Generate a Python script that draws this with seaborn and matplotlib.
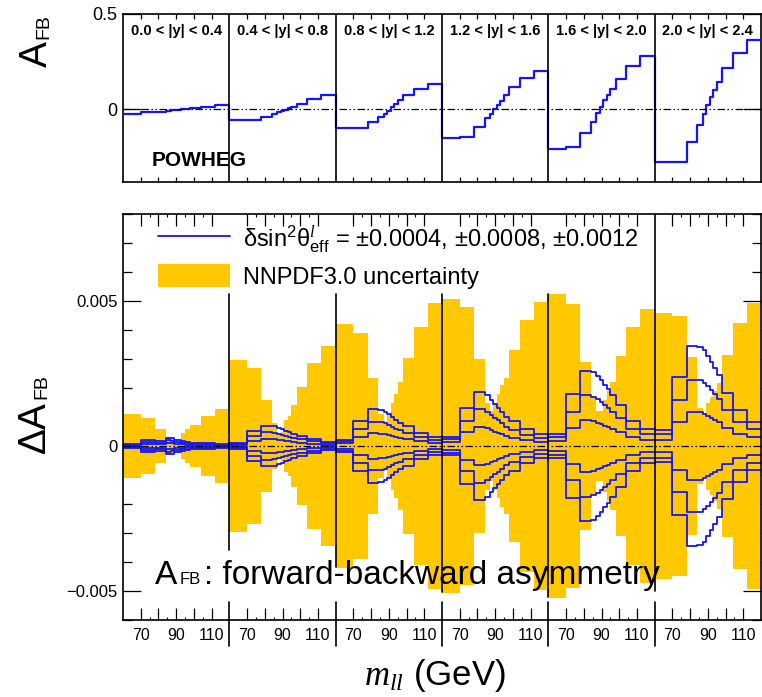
import numpy as np
import pandas as pd
import matplotlib
matplotlib.use("Agg")
import matplotlib.pyplot as plt
from matplotlib.lines import Line2D
from matplotlib.patches import Patch
import seaborn as sns

# ---------------- data ----------------
mass_edges = [60, 70, 78, 84, 87, 89, 91, 93, 95, 98, 104, 112, 120]
rapidity_bins = ["0.0 < |y| < 0.4", "0.4 < |y| < 0.8", "0.8 < |y| < 1.2",
                 "1.2 < |y| < 1.6", "1.6 < |y| < 2.0", "2.0 < |y| < 2.4"]
mass_tick_values = [70, 80, 90, 100, 110]
mass_tick_labels = ["70", "", "90", "", "110"]

# POWHEG A_FB per mass bin, one row per |y| bin
afb_powheg = [
    [-0.026, -0.017, -0.016, -0.009, -0.006, -0.004, -0.003, -0.001, 0.002, 0.003, 0.009, 0.021],
    [-0.060, -0.060, -0.040, -0.026, -0.018, -0.010, -0.003, 0.004, 0.011, 0.026, 0.051, 0.073],
    [-0.102, -0.101, -0.068, -0.040, -0.025, -0.008, 0.008, 0.025, 0.047, 0.074, 0.105, 0.132],
    [-0.151, -0.146, -0.093, -0.049, -0.026, -0.002, 0.021, 0.044, 0.072, 0.114, 0.161, 0.200],
    [-0.212, -0.202, -0.128, -0.067, -0.023, 0.012, 0.047, 0.074, 0.105, 0.156, 0.226, 0.281],
    [-0.277, -0.277, -0.172, -0.084, -0.028, 0.021, 0.065, 0.100, 0.144, 0.214, 0.296, 0.363],
]

# NNPDF3.0 uncertainty on A_FB (half width of the yellow band)
pdf_uncertainty = [
    [0.00110, 0.00095, 0.00060, 0.00030, 0.00015, 0.00008, 0.00015, 0.00045, 0.00058, 0.00072, 0.00103, 0.00128],
    [0.00295, 0.00268, 0.00159, 0.00080, 0.00040, 0.00050, 0.00090, 0.00105, 0.00140, 0.00203, 0.00285, 0.00345],
    [0.00421, 0.00389, 0.00233, 0.00110, 0.00080, 0.00110, 0.00150, 0.00180, 0.00220, 0.00305, 0.00410, 0.00492],
    [0.00508, 0.00480, 0.00300, 0.00150, 0.00120, 0.00150, 0.00180, 0.00210, 0.00233, 0.00330, 0.00434, 0.00498],
    [0.00524, 0.00490, 0.00290, 0.00170, 0.00120, 0.00120, 0.00160, 0.00190, 0.00220, 0.00310, 0.00410, 0.00471],
    [0.00460, 0.00448, 0.00308, 0.00130, 0.00110, 0.00150, 0.00170, 0.00190, 0.00216, 0.00314, 0.00423, 0.00492],
]

# Delta A_FB for delta sin^2 theta_eff = 0.0004, 0.0008, 0.0012 (curves drawn at +/-)
dafb_shift_0004 = [
    [0.00003, 0.00007, 0.00006, 0.00010, 0.00009, 0.00008, 0.00007, 0.00006, 0.00005, 0.00004, 0.00003, 0.00002],
    [0.00004, 0.00018, 0.00024, 0.00023, 0.00021, 0.00019, 0.00017, 0.00016, 0.00014, 0.00012, 0.00008, 0.00005],
    [0.00009, 0.00031, 0.00044, 0.00043, 0.00041, 0.00038, 0.00035, 0.00032, 0.00028, 0.00024, 0.00016, 0.00011],
    [0.00014, 0.00049, 0.00067, 0.00062, 0.00056, 0.00050, 0.00045, 0.00040, 0.00033, 0.00028, 0.00019, 0.00013],
    [0.00018, 0.00061, 0.00088, 0.00085, 0.00080, 0.00075, 0.00070, 0.00065, 0.00058, 0.00047, 0.00030, 0.00020],
    [0.00022, 0.00084, 0.00118, 0.00116, 0.00112, 0.00105, 0.00098, 0.00091, 0.00083, 0.00063, 0.00043, 0.00030],
]
dafb_shift_0008 = [
    [0.00005, 0.00014, 0.00012, 0.00019, 0.00017, 0.00015, 0.00013, 0.00011, 0.00010, 0.00008, 0.00006, 0.00004],
    [0.00008, 0.00036, 0.00048, 0.00046, 0.00043, 0.00039, 0.00035, 0.00032, 0.00029, 0.00024, 0.00016, 0.00010],
    [0.00016, 0.00059, 0.00084, 0.00082, 0.00078, 0.00073, 0.00067, 0.00060, 0.00054, 0.00045, 0.00030, 0.00021],
    [0.00024, 0.00086, 0.00126, 0.00118, 0.00108, 0.00098, 0.00088, 0.00078, 0.00066, 0.00056, 0.00038, 0.00027],
    [0.00030, 0.00118, 0.00176, 0.00170, 0.00161, 0.00151, 0.00140, 0.00130, 0.00117, 0.00095, 0.00060, 0.00041],
    [0.00040, 0.00159, 0.00228, 0.00226, 0.00218, 0.00206, 0.00193, 0.00178, 0.00163, 0.00125, 0.00084, 0.00058],
]
dafb_shift_0012 = [
    [0.00008, 0.00020, 0.00018, 0.00028, 0.00026, 0.00022, 0.00019, 0.00017, 0.00015, 0.00012, 0.00010, 0.00006],
    [0.00012, 0.00053, 0.00070, 0.00068, 0.00063, 0.00057, 0.00052, 0.00048, 0.00043, 0.00036, 0.00024, 0.00014],
    [0.00022, 0.00086, 0.00126, 0.00124, 0.00118, 0.00110, 0.00101, 0.00090, 0.00080, 0.00068, 0.00044, 0.00030],
    [0.00032, 0.00132, 0.00187, 0.00175, 0.00160, 0.00145, 0.00132, 0.00118, 0.00100, 0.00085, 0.00058, 0.00040],
    [0.00040, 0.00179, 0.00260, 0.00255, 0.00242, 0.00227, 0.00210, 0.00195, 0.00175, 0.00140, 0.00085, 0.00060],
    [0.00055, 0.00239, 0.00345, 0.00343, 0.00330, 0.00310, 0.00290, 0.00268, 0.00245, 0.00182, 0.00124, 0.00084],
]

# ---------------- style ----------------
sns.set_theme(style="ticks")
plt.rcParams.update({
    "font.family": ["Liberation Sans", "DejaVu Sans"],
    "mathtext.fontset": "custom",
    "mathtext.rm": "Liberation Sans",
    "mathtext.it": "Liberation Serif:italic",
    "mathtext.bf": "Liberation Sans:bold",
    "axes.linewidth": 1.2,
    "axes.edgecolor": "black",
    "text.color": "black",
    "xtick.color": "black",
    "ytick.color": "black",
})
BLUE = "#1414ff"
YELLOW = "#ffc800"
DASHDOT = (6, 2, 1.2, 2, 1.2, 2)

W, H = 762, 697
fig = plt.figure(figsize=(W / 100, H / 100), dpi=100)


def fx(px):
    return px / W


def fy(py):
    return 1 - py / H


L, R = 123, 761
ax_top = fig.add_axes([fx(L), fy(182), (R - L) / W, (182 - 14) / H])
ax_bot = fig.add_axes([fx(L), fy(620), (R - L) / W, (620 - 214) / H])

nbin = len(mass_edges) - 1
n_y = len(rapidity_bins)
span = mass_edges[-1] - mass_edges[0]
lo = mass_edges[0]

# global step x positions (left edges of all bins + final right edge)
x_left = [m - lo + span * i for i in range(n_y) for m in mass_edges[:-1]]
x_steps = np.array(x_left + [span * n_y])


def steps(rows):
    flat = [v for r in rows for v in r]
    return np.array(flat + [flat[-1]])


# ---------------- top panel ----------------
df_top = pd.DataFrame({"x": x_steps, "afb": steps(afb_powheg)})
sns.lineplot(data=df_top, x="x", y="afb", ax=ax_top, color=BLUE, lw=1.6,
             drawstyle="steps-post", estimator=None, sort=False, zorder=3)
ax_top.axhline(0, color="black", lw=0.9, dashes=DASHDOT, zorder=4)
for k in range(1, n_y):
    ax_top.axvline(span * k, color="black", lw=1.2, zorder=5)
for i, lab in enumerate(rapidity_bins):
    ax_top.text(span * i + span / 2, 0.41, lab, ha="center", va="center",
                fontsize=10.5, fontweight="bold")
ax_top.set_xlim(0, span * n_y)
ax_top.set_ylim(-0.3842, 0.5)
ax_top.set_xticks([m - lo + span * i for i in range(n_y) for m in mass_tick_values])
ax_top.set_yticks([0, 0.5])
ax_top.set_yticklabels(["0", "0.5"])
ax_top.tick_params(axis="x", which="both", direction="in", top=True, bottom=True,
                   length=3.5, width=0.9, labelbottom=False)
ax_top.tick_params(axis="y", direction="in", left=True, right=True, length=13,
                   width=0.9, labelsize=13, pad=4)
ax_top.set_xlabel("")
ax_top.set_ylabel("")

# ---------------- bottom panel ----------------
unc = steps(pdf_uncertainty)
ax_bot.fill_between(x_steps, -unc, unc, step="post", color=YELLOW, lw=0, zorder=1)

rows = []
for name, arr in [("0004", dafb_shift_0004), ("0008", dafb_shift_0008), ("0012", dafb_shift_0012)]:
    v = steps(arr)
    for sign, tag in [(1, "p"), (-1, "m")]:
        for xx, yy in zip(x_steps, sign * v):
            rows.append({"x": xx, "dafb": yy, "curve": tag + name})
df_bot = pd.DataFrame(rows)
sns.lineplot(data=df_bot, x="x", y="dafb", units="curve", estimator=None, ax=ax_bot,
             color=BLUE, lw=1.3, drawstyle="steps-post", sort=False, legend=False, zorder=2)
ax_bot.axhline(0, color="black", lw=0.9, dashes=DASHDOT, zorder=4)

sep_bottom = [-0.00359, -0.00416, -0.00502, -0.00520, -0.00500]
sep_top = [0.00524, 0.00524, 0.00524, 0.00524, 0.0080]
for k in range(1, n_y):
    ax_bot.plot([span * k, span * k], [sep_bottom[k - 1], sep_top[k - 1]],
                color="black", lw=1.2, zorder=5)
    ax_bot.plot([span * k, span * k], [-0.00538, -0.0069], color="black", lw=1.2,
                zorder=5, clip_on=False)

ax_bot.set_xlim(0, span * n_y)
ax_bot.set_ylim(-0.0060, 0.0080)
ax_bot.set_xticks([m - lo + span * i for i in range(n_y) for m in mass_tick_values])
ax_bot.set_xticklabels(mass_tick_labels * n_y)
ax_bot.set_xticks([m - lo + span * i for i in range(n_y) for m in [75, 85, 95, 105]], minor=True)
ax_bot.set_yticks([-0.005, 0, 0.005])
ax_bot.set_yticklabels(["\u22120.005", "0", "0.005"])
ax_bot.set_yticks(np.arange(-0.006, 0.0081, 0.001), minor=True)
ax_bot.tick_params(axis="x", which="major", direction="in", top=True, bottom=True,
                   length=8.5, width=0.9, labelsize=11.5, pad=6)
ax_bot.tick_params(axis="x", which="minor", direction="in", top=True, bottom=True,
                   length=2, width=0.8)
ax_bot.tick_params(axis="y", which="major", direction="in", left=True, right=True,
                   length=13, width=0.9, labelsize=12, pad=4)
ax_bot.tick_params(axis="y", which="minor", direction="in", left=True, right=True,
                   length=6.5, width=0.9)
ax_bot.set_xlabel("")
ax_bot.set_ylabel("")

handles = [Line2D([], [], color=BLUE, lw=1.3),
           Patch(facecolor=YELLOW, edgecolor="none")]
labels = [r"$\mathrm{\delta sin^{2}\theta^{\mathit{l}}_{eff}}$ = " + "\u00b10.0004, \u00b10.0008, \u00b10.0012",
          "NNPDF3.0 uncertainty"]
ax_bot.legend(handles, labels, loc="upper left", bbox_to_anchor=(35 / 638, 1 - 9 / 406),
              frameon=False, fontsize=17, handlelength=3.05, handleheight=1.1,
              handletextpad=0.55, labelspacing=0.4, borderpad=0, borderaxespad=0)

# ---------------- texts ----------------
fig.text(fx(152), fy(166), "POWHEG", fontsize=15, fontweight="bold", ha="left",
         va="baseline", zorder=10)
fig.text(fx(47), fy(67), "A", fontsize=28, rotation=90, rotation_mode="anchor",
         ha="left", va="baseline")
fig.text(fx(48), fy(39), "FB", fontsize=14, rotation=90, rotation_mode="anchor",
         ha="left", va="baseline")
fig.text(fx(45), fy(453), "\u0394A", fontsize=28, rotation=90, rotation_mode="anchor",
         ha="left", va="baseline")
fig.text(fx(46), fy(399), "FB", fontsize=14, rotation=90, rotation_mode="anchor",
         ha="left", va="baseline")
fig.text(fx(364), fy(685), r"$m_{ll}$ (GeV)", fontsize=25, ha="left", va="baseline")

fig.text(fx(155), fy(584), "A", fontsize=24, ha="left", va="baseline", zorder=10)
fig.text(fx(180), fy(584), "FB", fontsize=12, ha="left", va="baseline", zorder=10)
fig.text(fx(204), fy(584), ": forward-backward asymmetry", fontsize=24, ha="left",
         va="baseline", zorder=10)

fig.savefig("out.png", dpi=100)
